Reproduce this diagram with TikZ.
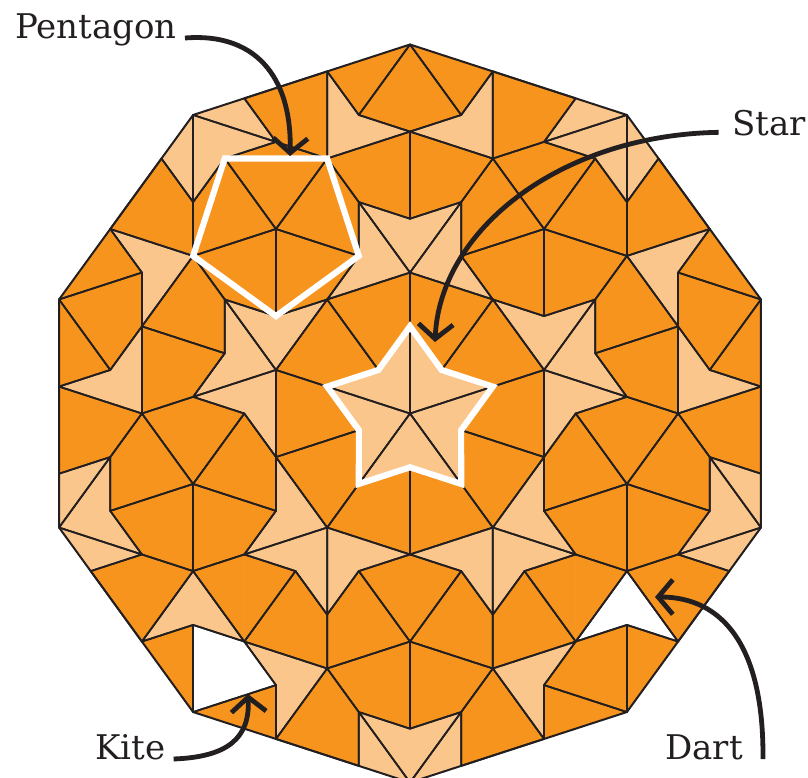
\documentclass[tikz,border=0pt]{standalone}
\usepackage{fontspec}
\setmainfont{DejaVu Serif}
\usetikzlibrary{arrows.meta}

\definecolor{kiteorange}{RGB}{247,148,29}
\definecolor{dartpeach}{RGB}{251,198,140}
\definecolor{inkgray}{RGB}{35,31,32}

% golden weights
\def\gA{0.618034}
\def\gB{0.381966}

% centroid of a triangle, and test against two target points
\newcommand\tricentre[6]{%
  \pgfmathsetmacro\tcx{((#1)+(#3)+(#5))/3}%
  \pgfmathsetmacro\tcy{((#2)+(#4)+(#6))/3}}
\newcommand\neartest[4]{%
  \pgfmathparse{(abs(\tcx-#1)<6)*(abs(\tcy-#2)<6)+(abs(\tcx-#3)<6)*(abs(\tcy-#4)<6)}}

% leaf half-kite: head, tail, side
\newcommand\leafkite[6]{%
  \ifnum\tilepass=1
    \tricentre{#1}{#2}{#3}{#4}{#5}{#6}\neartest{210.2}{659.5}{237.8}{679.5}%
    \ifdim\pgfmathresult pt>0.5pt
      \filldraw[blankfill] (#1,#2)--(#3,#4)--(#5,#6)--cycle;
    \else
      \filldraw[kitefill] (#1,#2)--(#3,#4)--(#5,#6)--cycle;
    \fi
  \else
    \draw[tileedge] (#1,#2)--(#5,#6)--(#3,#4);
  \fi}

% leaf half-dart: inner vertex, tip, wing
\newcommand\leafdart[6]{%
  \ifnum\tilepass=1
    \tricentre{#1}{#2}{#3}{#4}{#5}{#6}\neartest{643.9}{612.6}{609.8}{612.6}%
    \ifdim\pgfmathresult pt>0.5pt
      \filldraw[blankfill] (#1,#2)--(#3,#4)--(#5,#6)--cycle;
    \else
      \filldraw[dartfill] (#1,#2)--(#3,#4)--(#5,#6)--cycle;
    \fi
  \else
    \draw[tileedge] (#3,#4)--(#5,#6)--(#1,#2);
  \fi}

% half-kite K(head,tail,side) -> K(S,E,T) K(S,E,F) D(F,H,E)
\newcommand\halfkite[7]{%
  \ifnum#1=0\relax
    \leafkite{#2}{#3}{#4}{#5}{#6}{#7}%
  \else
    \begingroup
      \pgfmathsetmacro\ex{\gB*(#2)+\gA*(#4)}%
      \pgfmathsetmacro\ey{\gB*(#3)+\gA*(#5)}%
      \pgfmathsetmacro\fx{\gA*(#2)+\gB*(#6)}%
      \pgfmathsetmacro\fy{\gA*(#3)+\gB*(#7)}%
      \pgfmathtruncatemacro\lv{#1-1}%
      \edef\tilenext{%
        \noexpand\halfkite{\lv}{#6}{#7}{\ex}{\ey}{#4}{#5}%
        \noexpand\halfkite{\lv}{#6}{#7}{\ex}{\ey}{\fx}{\fy}%
        \noexpand\halfdart{\lv}{\fx}{\fy}{#2}{#3}{\ex}{\ey}}%
      \tilenext
    \endgroup
  \fi}

% half-dart D(inner,tip,wing) -> K(P,Q,G) D(G,W,Q)
\newcommand\halfdart[7]{%
  \ifnum#1=0\relax
    \leafdart{#2}{#3}{#4}{#5}{#6}{#7}%
  \else
    \begingroup
      \pgfmathsetmacro\gx{\gB*(#4)+\gA*(#6)}%
      \pgfmathsetmacro\gy{\gB*(#5)+\gA*(#7)}%
      \pgfmathtruncatemacro\lv{#1-1}%
      \edef\tilenext{%
        \noexpand\halfkite{\lv}{#4}{#5}{#2}{#3}{\gx}{\gy}%
        \noexpand\halfdart{\lv}{\gx}{\gy}{#6}{#7}{#2}{#3}}%
      \tilenext
    \endgroup
  \fi}

\begin{document}
\begin{tikzpicture}[x=0.75pt,y=-0.75pt,
  kitefill/.style={fill=kiteorange,draw=kiteorange,line width=0.4pt},
  dartfill/.style={fill=dartpeach,draw=dartpeach,line width=0.4pt},
  blankfill/.style={fill=white,draw=white,line width=0.4pt},
  tileedge/.style={draw=inkgray,line width=1.3pt,line join=round,line cap=round},
  rim/.style={draw=inkgray,line width=1.5pt,line join=round},
  hilite/.style={draw=white,line width=4.6pt,line join=miter},
  calltext/.style={font=\fontsize{25.5}{28}\selectfont,text=inkgray,inner sep=0pt},
  callout/.style={draw=inkgray,line width=3.6pt,-{Straight Barb[length=11pt,width=26pt]}}
]
  \useasboundingbox (0,0) rectangle (808,778);
  \clip (0,0) rectangle (808,778);

  % decagon = a sun of five kites, deflated three times
  \foreach \tilepass in {1,2}{
    \foreach \j in {0,...,4}{
      \pgfmathsetmacro\ta{126+72*\j}
      \pgfmathsetmacro\tx{410+369*cos(\ta)}
      \pgfmathsetmacro\ty{413.5-369*sin(\ta)}
      \pgfmathsetmacro\sax{410+369*cos(\ta-36)}
      \pgfmathsetmacro\say{413.5-369*sin(\ta-36)}
      \pgfmathsetmacro\sbx{410+369*cos(\ta+36)}
      \pgfmathsetmacro\sby{413.5-369*sin(\ta+36)}
      \edef\tilenext{%
        \noexpand\halfkite{3}{410}{413.5}{\tx}{\ty}{\sax}{\say}%
        \noexpand\halfkite{3}{410}{413.5}{\tx}{\ty}{\sbx}{\sby}}
      \tilenext
    }
  }
  \draw[rim] plot[samples at={90,126,...,414}]
    ({410+369*cos(\x)},{413.5-369*sin(\x)}) -- cycle;

  % white outlines
  \draw[hilite] plot[samples at={270,342,414,486,558}]
    ({275.95+87.1*cos(\x)},{229.0-87.1*sin(\x)}) -- cycle;
  \draw[hilite] plot[samples at={0,...,9}]
    ({410+ifthenelse(mod(\x,2)==0,87.1,53.8)*cos(90+36*\x)},
     {413.5-ifthenelse(mod(\x,2)==0,87.1,53.8)*sin(90+36*\x)}) -- cycle;

  % labels and arrows
  \node[calltext,anchor=base west] (lblpent) at (15,38) {Pentagon};
  \node[calltext,anchor=base west] (lblstar) at (732,135) {Star};
  \node[calltext,anchor=base west] (lblkite) at (95,759) {Kite};
  \node[calltext,anchor=base west] (lbldart) at (665,759) {Dart};
  \coordinate (pentTip) at (290,156);
  \coordinate (starTip) at (435,342);
  \coordinate (kiteTip) at (248,694);
  \coordinate (dartTip) at (655,597);

  \draw[callout] ([xshift=6pt]lblpent.base east) .. controls (262,32) and (292,85) .. (pentTip);
  \draw[callout] ([shift={(-10pt,2pt)}]lblstar.base west) .. controls (560,135) and (440,230) .. (starTip);
  \draw[callout] ([xshift=6pt]lblkite.base east) .. controls (228,757) and (250,738) .. (kiteTip);
  \draw[callout] ([xshift=15pt]lbldart.base east) .. controls (764,645) and (722,597) .. (dartTip);
\end{tikzpicture}
\end{document}
